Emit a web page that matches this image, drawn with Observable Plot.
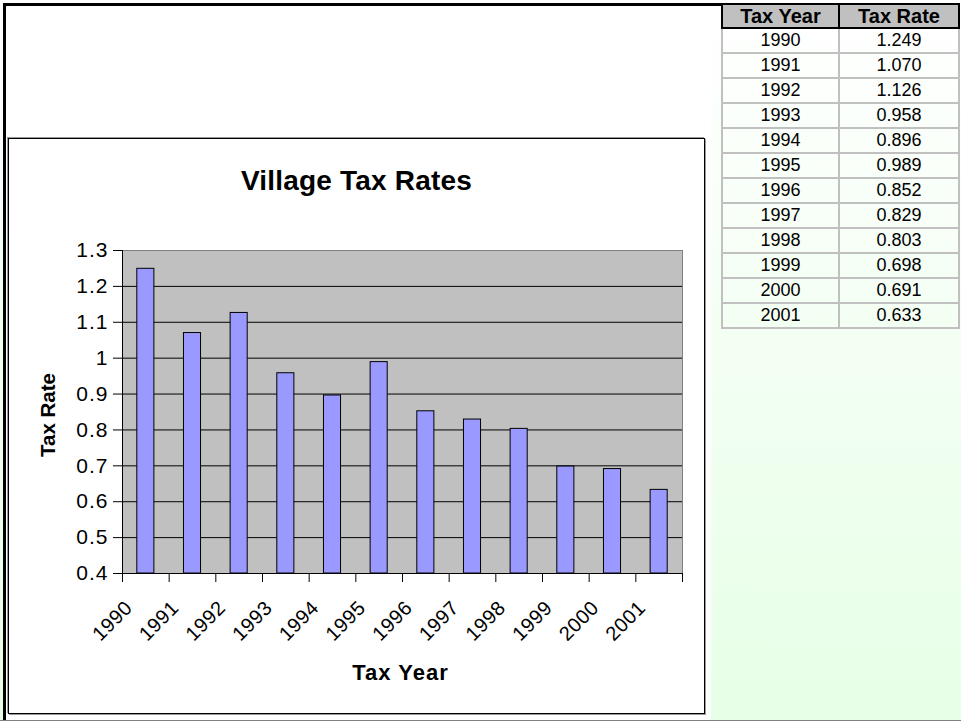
<!DOCTYPE html>
<html><head><meta charset="utf-8">
<script src="https://cdn.jsdelivr.net/npm/d3@7"></script>
<script src="https://cdn.jsdelivr.net/npm/@observablehq/plot@0.6"></script>
<style>
html,body{margin:0;padding:0;}
body{width:961px;height:721px;position:relative;overflow:hidden;background:linear-gradient(#ffffff 0%,#e6ffe6 100%);font-family:Arial,"Liberation Sans",sans-serif;}
#frame{position:absolute;left:3px;top:3px;width:718px;height:717px;border-top:3px solid #000;border-left:3px solid #000;box-sizing:border-box;}
#leftcell{position:absolute;left:6px;top:6px;width:705px;height:714px;background:#fff;}
#bottomline{position:absolute;left:0;top:720px;width:961px;height:1px;background:#808080;}
#chartbox{position:absolute;left:8px;top:138px;width:697px;height:576px;box-sizing:border-box;border:1px solid #000;box-shadow:1px 1px 0 #999,-1px -1px 0 #999;background:#fff;}
#title{position:absolute;left:0;top:28px;width:100%;text-align:center;font-weight:bold;font-size:28px;line-height:28px;color:#000;letter-spacing:0.2px;}
#plot{position:absolute;left:0;top:0;}
#plot g[aria-label="y-axis tick label"]{font-size:21px !important;letter-spacing:1px;}
#plot g[aria-label="x-axis tick label"]{font-size:20px !important;letter-spacing:0.5px;}
#plot g.axis-title-x{letter-spacing:1px;}
#tbl{position:absolute;left:721px;top:3px;border-collapse:collapse;font-family:Arial,"Liberation Sans",sans-serif;}
#tbl th{background:#c0c0c0;border:2px solid #000;font-weight:bold;font-size:20px;height:22px;padding:0;line-height:22px;}
#tbl td{border:2px solid #c0c0c0;font-size:18px;height:23px;padding:0;line-height:23px;text-align:center;}
#tbl th.c1,#tbl td.c1{width:115px;}
#tbl th.c2,#tbl td.c2{width:118px;}
</style>
</head><body>
<div id="frame"></div>
<div id="leftcell"></div>
<div id="bottomline"></div>
<div id="chartbox"><div id="plot"></div><div id="title">Village Tax Rates</div></div>
<table id="tbl"><thead><tr><th class="c1">Tax Year</th><th class="c2">Tax Rate</th></tr></thead><tbody></tbody></table>
<script>
const years = [1990,1991,1992,1993,1994,1995,1996,1997,1998,1999,2000,2001];
const rates = [1.249,1.070,1.126,0.958,0.896,0.989,0.852,0.829,0.803,0.698,0.691,0.633];
const yTicks = [0.4,0.5,0.6,0.7,0.8,0.9,1.0,1.1,1.2,1.3];
const yTickLabels = ["0.4","0.5","0.6","0.7","0.8","0.9","1","1.1","1.2","1.3"];
const tableHeaders = ["Tax Year","Tax Rate"];

const data = years.map((year, i) => ({year, rate: rates[i]}));
const boundaries = years.map(y => y - 0.5).concat([years[years.length - 1] + 0.5]);
const gridValues = yTicks.slice(1, -1);
const font = 'Arial, "Liberation Sans", sans-serif';

const chart = Plot.plot({
  width: 695,
  height: 574,
  marginLeft: 113,
  marginRight: 22,
  marginTop: 111,
  marginBottom: 140,
  style: {fontFamily: font, fontSize: "19px", color: "#000", background: "transparent", overflow: "visible"},
  x: {type: "linear", domain: [boundaries[0], boundaries[boundaries.length - 1]]},
  y: {domain: [yTicks[0], yTicks[yTicks.length - 1]]},
  marks: [
    Plot.frame({fill: "#c0c0c0", stroke: "#808080"}),
    Plot.ruleY(gridValues, {stroke: "#000", strokeWidth: 1}),
    Plot.rectY(data, {x1: d => d.year - 0.5, x2: d => d.year + 0.5, y1: yTicks[0], y2: "rate",
      fill: "#9999ff", stroke: "#000", strokeWidth: 1, insetLeft: 14.8, insetRight: 14.8}),
    Plot.frame({anchor: "left", stroke: "#000"}),
    Plot.frame({anchor: "bottom", stroke: "#000"}),
    Plot.axisY({ticks: yTicks, tickSize: 9, tickPadding: 5,
      tickFormat: d => yTickLabels[yTicks.findIndex(t => Math.abs(t - d) < 1e-9)], label: null}),
    Plot.axisX({ticks: boundaries, tickSize: 9, tickFormat: () => "", label: null}),
    Plot.axisX({ticks: years, tickSize: 0, tickPadding: 31, tickRotate: -45, dx: -17,
      textAnchor: "end", lineAnchor: "middle", tickFormat: d => String(d), label: null}),
    Plot.text([tableHeaders[0]], {frameAnchor: "bottom", dy: 99, dx: -2, textAnchor: "middle", lineAnchor: "middle",
      fontWeight: "bold", fontSize: 22, className: "axis-title-x"}),
    Plot.text([tableHeaders[1]], {frameAnchor: "left", rotate: -90, dx: -74, dy: 3, textAnchor: "middle", lineAnchor: "middle",
      fontWeight: "bold", fontSize: 20.5})
  ]
});
document.getElementById("plot").appendChild(chart);

const tbody = document.querySelector("#tbl tbody");
data.forEach(d => {
  const tr = document.createElement("tr");
  const a = document.createElement("td"); a.className = "c1"; a.textContent = String(d.year);
  const b = document.createElement("td"); b.className = "c2"; b.textContent = d.rate.toFixed(3);
  tr.appendChild(a); tr.appendChild(b); tbody.appendChild(tr);
});
</script>
</body></html>
